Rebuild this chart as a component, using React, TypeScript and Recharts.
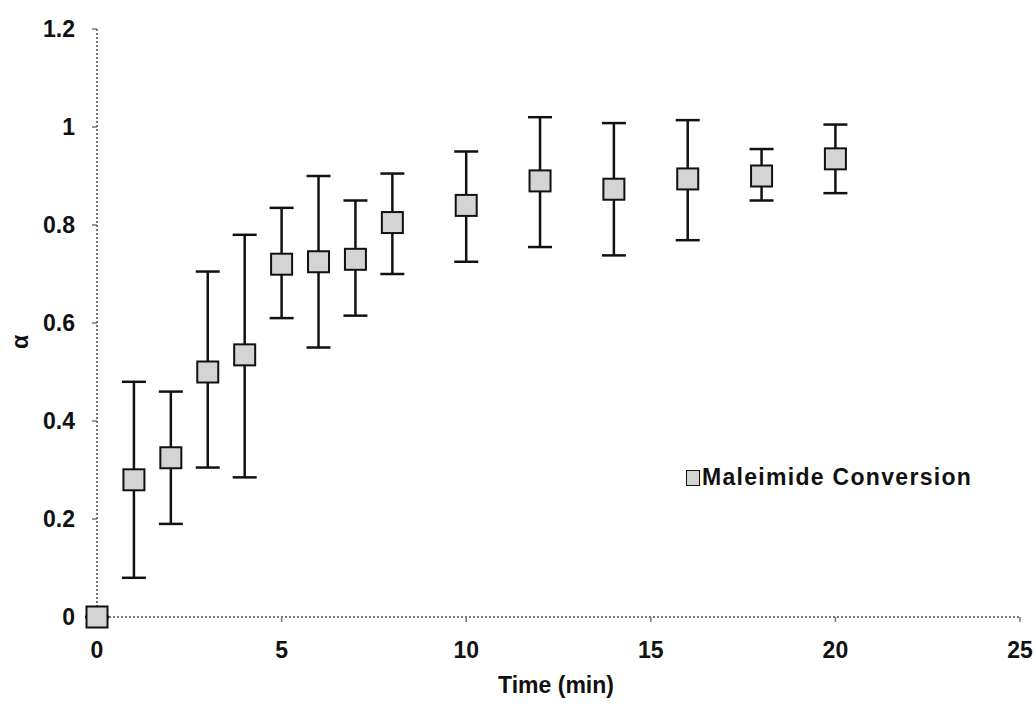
import React from 'react';
import {
  ScatterChart,
  Scatter,
  XAxis,
  YAxis,
  ErrorBar,
  Legend,
} from 'recharts';

const times = [0, 1, 2, 3, 4, 5, 6, 7, 8, 10, 12, 14, 16, 18, 20];
const conversion = [0, 0.28, 0.325, 0.5, 0.535, 0.72, 0.725, 0.73, 0.805, 0.84, 0.89, 0.873, 0.894, 0.9, 0.935];
const errLow = [0, 0.2, 0.135, 0.195, 0.25, 0.11, 0.175, 0.115, 0.105, 0.115, 0.135, 0.135, 0.125, 0.05, 0.07];
const errHigh = [0, 0.2, 0.135, 0.205, 0.245, 0.115, 0.175, 0.12, 0.1, 0.11, 0.13, 0.135, 0.12, 0.055, 0.07];

const xTicks = [0, 5, 10, 15, 20, 25];
const yTicks = [0, 0.2, 0.4, 0.6, 0.8, 1, 1.2];

const data = times.map((t, i) => ({
  t,
  a: conversion[i],
  err: [errLow[i], errHigh[i]],
}));

const fontStyle = { fontFamily: '"Liberation Sans", Arial, sans-serif', fontWeight: 'bold' as const };
const axisStroke = '#777';

const SquareMarker = (props: any) => {
  const { cx, cy } = props;
  const s = 21;
  return (
    <rect
      x={cx - s / 2}
      y={cy - s / 2}
      width={s}
      height={s}
      fill="#d4d4d4"
      stroke="#111"
      strokeWidth={2}
    />
  );
};

const LegendContent = (props: any) => {
  const item = props.payload && props.payload[0];
  return (
    <div style={{ display: 'flex', alignItems: 'center', ...fontStyle, fontSize: 23, color: '#111' }}>
      <span
        style={{
          display: 'inline-block',
          width: 12,
          height: 14,
          background: '#d4d4d4',
          border: '1.5px solid #111',
          marginRight: 2,
        }}
      />
      <span style={{ letterSpacing: 1.3, whiteSpace: 'nowrap' }}>{item ? item.value : ''}</span>
    </div>
  );
};

export default function App() {
  return (
    <div style={{ position: 'absolute', left: 0, top: 0, background: '#fff' }}>
      <ScatterChart
        width={1036}
        height={709}
        margin={{ top: 29, right: 16, left: 17, bottom: 42 }}
      >
        <XAxis
          type="number"
          dataKey="t"
          domain={[0, 25]}
          ticks={xTicks}
          height={50}
          tickSize={5}
          tickMargin={20}
          axisLine={{ stroke: axisStroke, strokeWidth: 2, strokeDasharray: '2 2' }}
          tickLine={{ stroke: axisStroke, strokeWidth: 1.5 }}
          tick={{ ...fontStyle, fill: '#111', fontSize: 23 }}
          label={{
            content: () => (
              <text x={556} y={693} textAnchor="middle" style={{ ...fontStyle, fontSize: 23 }} fill="#111">
                Time (min)
              </text>
            ),
          }}
        />
        <YAxis
          type="number"
          dataKey="a"
          domain={[0, 1.2]}
          ticks={yTicks}
          width={80}
          tickSize={5}
          tickMargin={17}
          axisLine={{ stroke: axisStroke, strokeWidth: 2, strokeDasharray: '2 2' }}
          tickLine={{ stroke: axisStroke, strokeWidth: 1.5 }}
          tick={{ ...fontStyle, fill: '#111', fontSize: 23 }}
          label={{
            content: () => (
              <text
                x={20}
                y={342}
                textAnchor="middle"
                dominantBaseline="central"
                transform="rotate(-90 20 342)"
                style={{ ...fontStyle, fontSize: 23 }}
                fill="#111"
              >
                α
              </text>
            ),
          }}
        />
        <Legend
          layout="horizontal"
          verticalAlign="middle"
          align="center"
          content={<LegendContent />}
          wrapperStyle={{ position: 'absolute', left: 686, top: 464, width: 330 }}
        />
        <Scatter
          name="Maleimide Conversion"
          data={data}
          shape={<SquareMarker />}
          isAnimationActive={false}
        >
          <ErrorBar
            dataKey="err"
            direction="y"
            width={12}
            stroke="#111"
            strokeWidth={2.5}
            isAnimationActive={false}
          />
        </Scatter>
      </ScatterChart>
    </div>
  );
}
